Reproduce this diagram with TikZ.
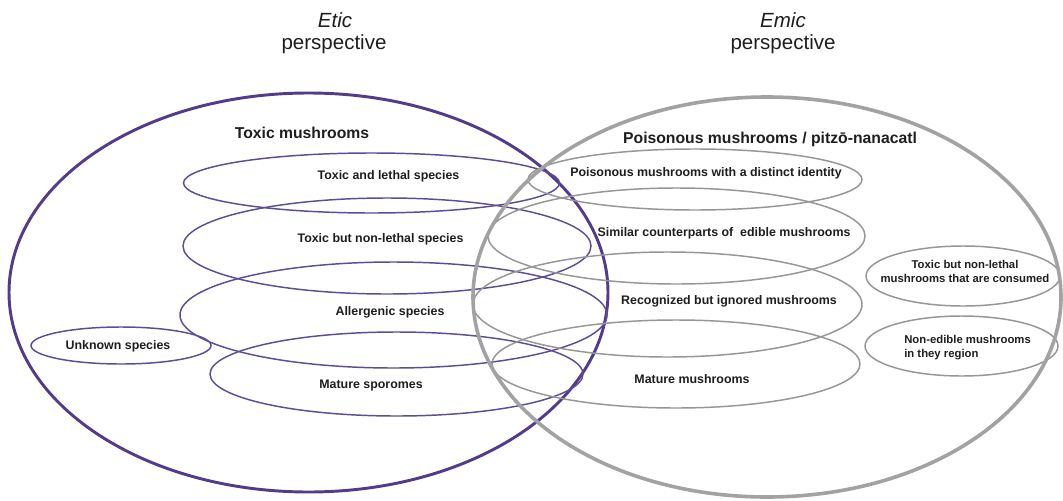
\documentclass[tikz,border=0pt]{standalone}
\usepackage{fontspec}
\setmainfont{Liberation Sans}
\definecolor{purpleC}{RGB}{84,58,138}
\definecolor{purpleL}{RGB}{96,76,150}
\definecolor{grayC}{RGB}{162,162,162}
\definecolor{grayL}{RGB}{150,150,150}
\definecolor{txt}{RGB}{30,30,30}
\begin{document}
\begin{tikzpicture}[x=0.75pt,y=-0.75pt,
  bigpurple/.style={draw=purpleC, line width=2.2pt},
  biggray/.style={draw=grayC, line width=2.7pt},
  inpurple/.style={draw=purpleL, line width=1.1pt},
  ingray/.style={draw=grayL, line width=1.1pt},
  lab/.style={text=txt, font=\fontsize{9.3}{11}\selectfont\bfseries, inner sep=0pt},
  smalllab/.style={text=txt, font=\fontsize{8.5}{10.5}\selectfont\bfseries, inner sep=0pt},
  setlab/.style={text=txt, font=\fontsize{11.8}{14}\selectfont\bfseries, inner sep=0pt},
  headlab/.style={text=txt, font=\fontsize{15.4}{16}\selectfont, inner sep=0pt, anchor=base}]
\useasboundingbox (0,0) rectangle (1063,500);
\fill[white] (0,0) rectangle (1063,500);

% headings
\node[headlab] (etic) at (335,27) {\itshape Etic};
\node[headlab] (eticp) at (334,49) {perspective};
\node[headlab] (emic) at (783,27) {\itshape Emic};
\node[headlab] (emicp) at (783,49) {perspective};

% etic (purple) sets
\draw[bigpurple] (308.5,292.5) ellipse [x radius=299.5, y radius=199.5];
\draw[inpurple] (371.5,183) ellipse [x radius=188, y radius=30];
\draw[inpurple] (387,246) ellipse [x radius=204, y radius=48];
\draw[inpurple] (393.5,315) ellipse [x radius=213.5, y radius=53];
\draw[inpurple] (121,345.5) ellipse [x radius=90, y radius=18.5];
\draw[inpurple] (396.5,374) ellipse [x radius=186.5, y radius=42];

% emic (gray) sets
\draw[ingray] (695,179.5) ellipse [x radius=167, y radius=30.5];
\draw[ingray] (676.5,236) ellipse [x radius=188.5, y radius=48];
\draw[ingray] (667.5,304.5) ellipse [x radius=194.5, y radius=52.5];
\draw[ingray] (676,364) ellipse [x radius=184, y radius=44];
\draw[ingray] (963,276) ellipse [x radius=97, y radius=30];
\draw[ingray] (961.5,346) ellipse [x radius=96.5, y radius=30];
\draw[biggray] (767,297) ellipse [x radius=294, y radius=200];

% labels
\node[setlab] (toxic) at (302,133) {Toxic mushrooms};
\node[setlab] (poison) at (770,139) {Poisonous mushrooms / pitzō-nanacatl};

\node[lab] (lethal) at (388.5,176) {Toxic and lethal species};
\node[lab] (nonlethal) at (380.5,239) {Toxic but non-lethal species};
\node[lab] (allerg) at (390,312) {Allergenic species};
\node[lab] (unknown) at (118,346) {Unknown species};
\node[lab] (sporomes) at (371,386) {Mature sporomes};

\node[lab] (distinct) at (706,173) {Poisonous mushrooms with a distinct identity};
\node[lab] (similar) at (724,233) {Similar counterparts of\ \ edible mushrooms};
\node[lab] (recog) at (729,301) {Recognized but ignored mushrooms};
\node[lab] (mature) at (692,379) {Mature mushrooms};
\node[smalllab, align=center] (consumed) at (965,271) {Toxic but non-lethal\\mushrooms that are consumed};
\node[smalllab, align=left, anchor=west] (nonedible) at (904,348) {Non-edible mushrooms\\in they region};
\end{tikzpicture}
\end{document}
